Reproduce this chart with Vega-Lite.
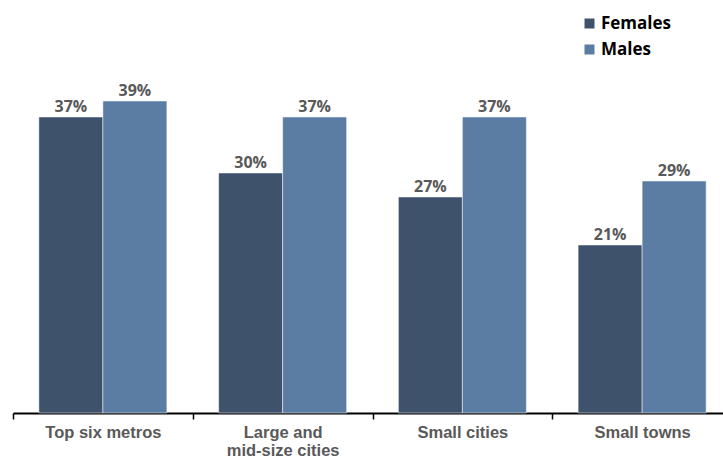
{
  "$schema": "https://vega.github.io/schema/vega-lite/v6.json",
  "width": 719,
  "height": 400,
  "padding": {"left": 12, "top": 13, "right": 0, "bottom": 0},
  "background": "white",
  "config": {"view": {"stroke": null}},
  "data": {
    "values": [
      {"area": "Top six metros", "sex": "Females", "pct": 37},
      {"area": "Top six metros", "sex": "Males", "pct": 39},
      {"area": "Large and|mid-size cities", "sex": "Females", "pct": 30},
      {"area": "Large and|mid-size cities", "sex": "Males", "pct": 37},
      {"area": "Small cities", "sex": "Females", "pct": 27},
      {"area": "Small cities", "sex": "Males", "pct": 37},
      {"area": "Small towns", "sex": "Females", "pct": 21},
      {"area": "Small towns", "sex": "Males", "pct": 29}
    ]
  },
  "encoding": {
    "x": {
      "field": "area", "type": "nominal", "sort": null,
      "scale": {"paddingInner": 0, "paddingOuter": 0},
      "axis": {
        "title": null, "labelAngle": 0, "tickBand": "extent",
        "domainColor": "#000000", "domainWidth": 2, "tickColor": "#000000", "tickWidth": 1.5, "tickSize": 6,
        "labelFont": "Liberation Sans", "labelFontWeight": "bold", "labelFontSize": 16.5, "labelColor": "#595959",
        "labelPadding": 5, "labelLineHeight": 18,
        "labelExpr": "split(datum.label, '|')"
      }
    },
    "xOffset": {"field": "sex", "type": "nominal", "scale": {"paddingInner": 0, "paddingOuter": 0.404}},
    "y": {"field": "pct", "type": "quantitative", "scale": {"domain": [0, 50]}, "axis": null}
  },
  "layer": [
    {
      "mark": {"type": "bar", "stroke": "white", "strokeWidth": 0.5},
      "encoding": {
        "color": {
          "field": "sex", "type": "nominal",
          "scale": {"domain": ["Females", "Males"], "range": ["#3e526b", "#5b7ca3"]},
          "legend": {
            "title": null, "orient": "none", "legendX": 568, "legendY": 2,
            "symbolType": "square", "symbolSize": 100, "symbolStrokeWidth": 0,
            "labelFont": "Open Sans", "labelFontWeight": "bold", "labelFontSize": 17, "labelColor": "#000000",
            "rowPadding": 8, "labelOffset": 3
          }
        }
      }
    },
    {
      "mark": {"type": "text", "baseline": "bottom", "dy": -2, "font": "Open Sans", "fontWeight": "bold", "fontSize": 16, "color": "#595959", "text": {"expr": "datum.pct + '%'"}},
      "encoding": {}
    }
  ]
}
